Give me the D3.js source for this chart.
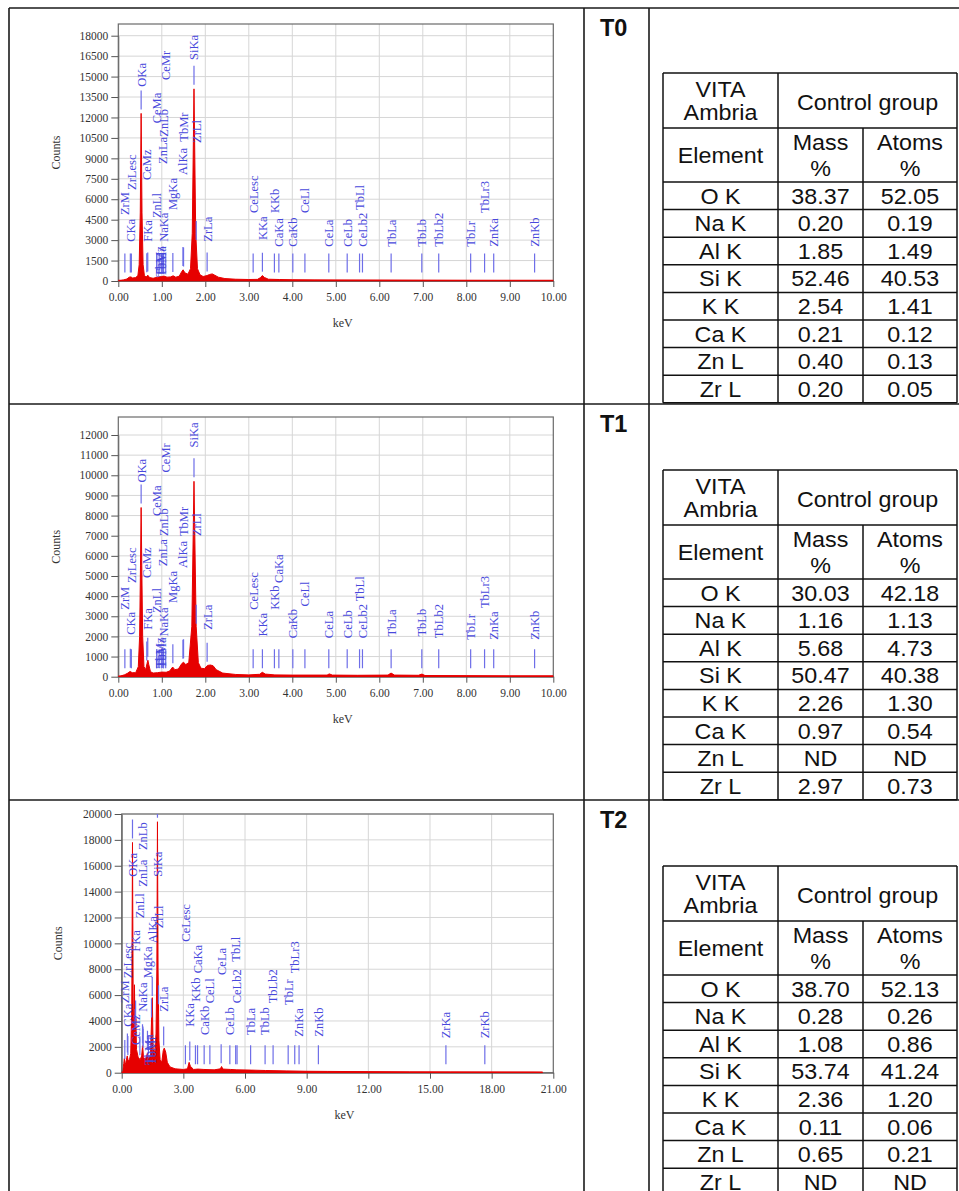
<!DOCTYPE html>
<html><head><meta charset="utf-8">
<script src="https://cdn.jsdelivr.net/npm/d3@7"></script>
<style>body{margin:0;background:#fff}svg{display:block}</style>
</head><body>
<svg id="c" width="959" height="1191"></svg>
<script>
// ---------------- DATA ----------------
const sections = ["T0", "T1", "T2"];
const elements = ["O K", "Na K", "Al K", "Si K", "K K", "Ca K", "Zn L", "Zr L"];
const massT0 = ["38.37", "0.20", "1.85", "52.46", "2.54", "0.21", "0.40", "0.20"];
const atomsT0 = ["52.05", "0.19", "1.49", "40.53", "1.41", "0.12", "0.13", "0.05"];
const massT1 = ["30.03", "1.16", "5.68", "50.47", "2.26", "0.97", "ND", "2.97"];
const atomsT1 = ["42.18", "1.13", "4.73", "40.38", "1.30", "0.54", "ND", "0.73"];
const massT2 = ["38.70", "0.28", "1.08", "53.74", "2.36", "0.11", "0.65", "ND"];
const atomsT2 = ["52.13", "0.26", "0.86", "41.24", "1.20", "0.06", "0.21", "ND"];

const xTicksT0 = [0,1,2,3,4,5,6,7,8,9,10];
const xTicksT1 = [0,1,2,3,4,5,6,7,8,9,10];
const xTicksT2 = [0,3,6,9,12,15,18,21];
const yTicksT0 = [0,1500,3000,4500,6000,7500,9000,10500,12000,13500,15000,16500,18000];
const yTicksT1 = [0,1000,2000,3000,4000,5000,6000,7000,8000,9000,10000,11000,12000];
const yTicksT2 = [0,2000,4000,6000,8000,10000,12000,14000,16000,18000,20000];

// spectra: [keV, counts]
const spectrumT0 = [[0,0],[0.05,30],[0.12,80],[0.2,150],[0.25,280],[0.29,300],[0.33,220],[0.4,250],[0.45,400],[0.48,1200],[0.505,5000],[0.525,12300],[0.545,5000],[0.57,1200],[0.6,400],[0.64,300],[0.68,420],[0.72,250],[0.8,200],[0.9,280],[1.0,330],[1.05,360],[1.12,280],[1.2,300],[1.26,380],[1.32,280],[1.4,350],[1.46,700],[1.49,820],[1.53,600],[1.6,500],[1.66,900],[1.70,3500],[1.74,14100],[1.78,3500],[1.82,900],[1.88,450],[1.95,330],[2.04,400],[2.1,480],[2.16,520],[2.22,420],[2.3,280],[2.45,180],[2.7,130],[3.0,110],[3.2,120],[3.27,250],[3.31,400],[3.36,260],[3.45,130],[3.7,110],[4.0,90],[4.5,80],[5,70],[6,60],[7,50],[8,40],[9,35],[10,30]];
const spectrumT1 = [[0,0],[0.05,30],[0.15,100],[0.22,180],[0.27,260],[0.32,200],[0.4,200],[0.46,500],[0.49,2000],[0.51,5500],[0.525,8400],[0.54,5500],[0.56,2000],[0.59,500],[0.63,350],[0.66,650],[0.68,820],[0.7,600],[0.74,250],[0.8,180],[0.9,200],[1.0,230],[1.1,220],[1.18,280],[1.25,480],[1.3,350],[1.38,380],[1.46,650],[1.5,720],[1.55,600],[1.62,700],[1.69,2500],[1.74,9700],[1.79,2500],[1.84,700],[1.9,420],[1.98,400],[2.05,560],[2.12,580],[2.18,540],[2.25,350],[2.4,180],[2.7,110],[3.0,90],[3.25,120],[3.31,220],[3.38,130],[3.6,90],[4.0,80],[4.8,80],[4.85,140],[4.92,80],[5.5,70],[6.2,80],[6.27,180],[6.35,80],[6.9,70],[6.98,130],[7.05,60],[8,50],[9,40],[10,40]];
const spectrumT2 = [[0,0],[0.05,200],[0.1,700],[0.13,1100],[0.16,600],[0.2,800],[0.27,1300],[0.32,900],[0.38,1000],[0.44,1500],[0.49,5000],[0.525,17800],[0.56,5000],[0.59,3500],[0.62,6800],[0.65,3000],[0.69,4200],[0.72,1800],[0.8,1200],[0.9,1000],[0.97,1300],[1.02,2100],[1.06,1200],[1.15,1000],[1.25,1500],[1.3,1100],[1.4,1300],[1.46,4500],[1.49,5800],[1.53,1800],[1.6,1500],[1.67,3000],[1.71,8000],[1.74,19400],[1.77,8000],[1.81,2500],[1.87,1000],[1.95,800],[2.02,1700],[2.07,1900],[2.14,1600],[2.22,800],[2.35,450],[2.6,300],[3.0,250],[3.2,300],[3.28,800],[3.34,500],[3.5,250],[3.7,280],[4.0,250],[4.5,220],[4.8,300],[4.86,480],[4.92,280],[5.3,250],[5.6,220],[6.3,200],[7,170],[8,140],[9,110],[10,100],[12,80],[14,60],[16,50],[18,40],[20,30],[20.48,20]];

// element markers: [label, keV, label baseline in counts]
const markersT0 = [["ZrM",0.151,4840],["CKa",0.277,2880],["ZrLesc",0.30,6680],["OKa",0.525,14260],["CeMz",0.655,7410],["FKa",0.677,2880],["CeMa",0.883,11570],["ZnLl",0.884,4620],["TbMz",0.94,320],["TbMa",0.99,320],["ZnLa",1.012,8590],["ZnLb",1.034,10590],["NaKa",1.041,2880],["CeMr",1.09,14750],["MgKa",1.254,5210],["AlKa",1.486,7780],["TbMr",1.50,10220],["SiKa",1.740,16220],["ZrLl",1.792,10130],["ZrLa",2.042,2880],["CeLesc",3.10,4990],["KKa",3.313,3010],["KKb",3.589,4990],["CaKa",3.691,2520],["CaKb",4.012,2520],["CeLl",4.29,4990],["CeLa",4.839,2520],["CeLb",5.262,2520],["CeLb2",5.613,2520],["TbLl",5.546,5210],["TbLa",6.272,2520],["TbLb",6.977,2520],["TbLb2",7.366,2520],["TbLr",8.10,2520],["TbLr3",8.42,4990],["ZnKa",8.63,2520],["ZnKb",9.57,2520]];
const markersT1 = [["ZrM",0.151,3325],["CKa",0.277,2080],["ZrLesc",0.30,4655],["OKa",0.525,9640],["CeMz",0.655,4905],["FKa",0.677,2330],["CeMa",0.883,7975],["ZnLl",0.884,3160],["TbMz",0.94,430],["TbMa",0.99,430],["ZnLa",1.012,5485],["ZnLb",1.034,6980],["NaKa",1.041,1995],["CeMr",1.09,10140],["MgKa",1.254,3660],["AlKa",1.486,5400],["TbMr",1.50,6980],["SiKa",1.740,11385],["ZrLl",1.792,6980],["ZrLa",2.042,2330],["CeLesc",3.10,3325],["KKa",3.313,1995],["KKb",3.589,3325],["CaKa",3.691,4655],["CaKb",4.012,1915],["CeLl",4.29,3490],["CeLa",4.839,1915],["CeLb",5.262,1915],["CeLb2",5.613,1915],["TbLl",5.546,3740],["TbLa",6.272,1995],["TbLb",6.977,1995],["TbLb2",7.366,1915],["TbLr",8.10,1830],["TbLr3",8.42,3410],["ZnKa",8.63,1830],["ZnKb",9.57,1830]];
const markersT2 = [["CKa",0.277,3556],["ZrM",0.151,5365],["ZrLesc",0.30,7300],["OKa",0.525,15155],["CeMz",0.655,2140],["FKa",0.677,9355],["ZnLl",0.884,11935],["NaKa",1.041,4715],["ZnLa",1.012,14380],["ZnLb",1.034,17215],["MgKa",1.254,7300],["TbMa",1.30,600],["TbMr",1.45,600],["AlKa",1.486,10000],["SiKa",1.740,15155],["ZrLl",1.792,11160],["ZrLa",2.042,4715],["CeLesc",3.10,10130],["KKa",3.313,3556],["KKb",3.589,5490],["CaKa",3.691,7685],["CaKb",4.012,2915],["CeLl",4.29,5365],["CeLa",4.839,7555],["CeLb",5.262,2915],["CeLb2",5.613,5365],["TbLl",5.546,8580],["TbLa",6.272,2915],["TbLb",6.977,2915],["TbLb2",7.366,5365],["TbLr",8.10,5235],["TbLr3",8.42,7685],["ZnKa",8.63,2785],["ZnKb",9.57,2785],["ZrKa",15.775,2655],["ZrKb",17.668,2655]];

// ---------------- DRAW ----------------
const svg = d3.select("#c");
const SERIF = "'Liberation Serif','Times New Roman',serif";
const SANS = "'Liberation Sans',Arial,sans-serif";

// outer layout table
const sectionTops = [8, 404, 800];
const outer = svg.append("g").attr("stroke", "#1a1a1a").attr("stroke-width", 1.6);
[9, 584, 649].forEach(x => outer.append("line").attr("x1", x).attr("x2", x).attr("y1", 8).attr("y2", 1191));
sectionTops.forEach(y => outer.append("line").attr("x1", 9).attr("x2", 959).attr("y1", y).attr("y2", y));

sections.forEach((s, i) => {
  svg.append("text").attr("x", 600).attr("y", sectionTops[i] + 27.5)
    .attr("font-family", SANS).attr("font-weight", "bold").attr("font-size", 23.5)
    .attr("fill", "#111").text(s);
});

function interp(spec, e) {
  for (let i = 1; i < spec.length; i++) {
    if (e <= spec[i][0]) {
      const a = spec[i-1], b = spec[i];
      return a[1] + (b[1]-a[1]) * (e - a[0]) / (b[0] - a[0]);
    }
  }
  return spec[spec.length-1][1];
}

function drawChart(cfg, idx) {
  const g = svg.append("g");
  const x = d3.scaleLinear().domain([0, cfg.xMax]).range([cfg.left, cfg.right]);
  const y = d3.scaleLinear().domain([0, cfg.yRef]).range([cfg.y0, cfg.yRefPx]);
  const clipId = "clip" + idx;
  svg.append("defs").append("clipPath").attr("id", clipId)
    .append("rect").attr("x", cfg.left).attr("y", cfg.top).attr("width", cfg.right - cfg.left).attr("height", cfg.y0 - cfg.top + 1);

  // grid
  g.append("g").selectAll("line").data(cfg.yTicks.filter(d => d > 0)).join("line")
    .attr("x1", cfg.left).attr("x2", cfg.right).attr("y1", d => y(d)).attr("y2", d => y(d))
    .attr("stroke", "#d6d6d6").attr("stroke-width", 1);
  g.append("g").selectAll("line").data(cfg.xTicks.filter(d => d > 0 && d < cfg.xMax)).join("line")
    .attr("x1", d => x(d)).attr("x2", d => x(d)).attr("y1", cfg.top).attr("y2", cfg.y0)
    .attr("stroke", "#d6d6d6").attr("stroke-width", 1);

  // frame
  g.append("rect").attr("x", cfg.left).attr("y", cfg.top).attr("width", cfg.right - cfg.left).attr("height", cfg.y0 - cfg.top)
    .attr("fill", "none").attr("stroke", "#6a6a6a").attr("stroke-width", 1.2);

  // spectrum
  const area = d3.area().x(d => x(d[0])).y0(cfg.y0).y1(d => y(d[1]));
  g.append("path").datum(cfg.spectrum).attr("d", area)
    .attr("fill", "#e60000").attr("stroke", "#e60000").attr("stroke-width", 1)
    .attr("clip-path", `url(#${clipId})`);

  // markers
  const mg = g.append("g").attr("clip-path", `url(#${clipId})`);
  cfg.markers.forEach(m => {
    const ex = x(m[1]);
    const s = interp(cfg.spectrum, m[1]);
    const bottom = Math.min(y(s) - 4, cfg.y0 - 8.5);
    const top = bottom - 19;
    mg.append("line").attr("x1", ex).attr("x2", ex).attr("y1", top).attr("y2", bottom)
      .attr("stroke", "#6e6ee8").attr("stroke-width", 1.2);
  });
  g.append("g").selectAll("text").data(cfg.markers).join("text")
    .attr("transform", d => `translate(${x(d[1])},${y(d[2])}) rotate(-90)`)
    .attr("dy", "0.35em").attr("text-anchor", "start")
    .attr("font-family", SERIF).attr("font-size", 12.5).attr("fill", "#4848dc")
    .text(d => d[0]);

  // axes
  const ya = g.append("g").attr("transform", `translate(${cfg.left},0)`)
    .call(d3.axisLeft(y).tickValues(cfg.yTicks).tickSize(7).tickSizeOuter(0).tickPadding(3).tickFormat(d3.format("d")));
  const xa = g.append("g").attr("transform", `translate(0,${cfg.y0})`)
    .call(d3.axisBottom(x).tickValues(cfg.xTicks).tickSize(6).tickSizeOuter(0).tickPadding(6).tickFormat(d3.format(".2f")));
  [ya, xa].forEach(a => {
    a.selectAll("text").attr("font-family", SERIF).attr("font-size", 11.5).attr("fill", "#333");
    a.selectAll("line").attr("stroke", "#555");
    a.select(".domain").attr("stroke", "#6a6a6a");
  });
  // red baseline of the spectrum over the axis line
  g.append("line").attr("x1", cfg.left).attr("x2", x(cfg.spectrum[cfg.spectrum.length-1][0]))
    .attr("y1", cfg.y0 - 0.5).attr("y2", cfg.y0 - 0.5).attr("stroke", "#e60000").attr("stroke-width", 1.5);

  g.append("text").attr("transform", `translate(${cfg.countsX},${(cfg.top + cfg.y0) / 2}) rotate(-90)`)
    .attr("text-anchor", "middle").attr("font-family", SERIF).attr("font-size", 12).attr("fill", "#333").text("Counts");
  g.append("text").attr("x", (cfg.left + cfg.right) / 2 + 7).attr("y", cfg.y0 + 46)
    .attr("text-anchor", "middle").attr("font-family", SERIF).attr("font-size", 12).attr("fill", "#333").text("keV");
}

drawChart({spectrum: spectrumT0, markers: markersT0, xMax: 10, xTicks: xTicksT0, yTicks: yTicksT0,
  left: 118.3, right: 553.3, top: 24, y0: 281, yRef: 18000, yRefPx: 35.7, countsX: 60}, 0);
drawChart({spectrum: spectrumT1, markers: markersT1, xMax: 10, xTicks: xTicksT1, yTicks: yTicksT1,
  left: 118.3, right: 553.3, top: 417, y0: 676.7, yRef: 12000, yRefPx: 435, countsX: 60}, 1);
drawChart({spectrum: spectrumT2, markers: markersT2, xMax: 21, xTicks: xTicksT2, yTicks: yTicksT2,
  left: 121.7, right: 553.3, top: 814, y0: 1072.7, yRef: 20000, yRefPx: 814, countsX: 62}, 2);

// composition tables
function drawTable(top, mass, atoms) {
  const cols = [663, 778, 863, 957];
  const rowH = 27.6;
  const rows = [top, top + 55, top + 109];
  for (let i = 1; i <= elements.length; i++) rows.push(top + 109 + i * rowH);
  const g = svg.append("g");
  const ln = g.append("g").attr("stroke", "#111").attr("stroke-width", 1.5);
  const bottom = rows[rows.length - 1];
  ln.append("line").attr("x1", cols[0]).attr("x2", cols[0]).attr("y1", top).attr("y2", bottom);
  ln.append("line").attr("x1", cols[1]).attr("x2", cols[1]).attr("y1", top).attr("y2", bottom);
  ln.append("line").attr("x1", cols[2]).attr("x2", cols[2]).attr("y1", rows[1]).attr("y2", bottom);
  ln.append("line").attr("x1", cols[3]).attr("x2", cols[3]).attr("y1", top).attr("y2", bottom);
  rows.forEach(r => ln.append("line").attr("x1", cols[0]).attr("x2", cols[3]).attr("y1", r).attr("y2", r));

  const t = (xx, yy, s) => g.append("text").attr("transform", `translate(${xx},${yy}) scale(1.06,1)`)
    .attr("text-anchor", "middle")
    .attr("font-family", SANS).attr("font-size", 22).attr("fill", "#111").text(s);
  const c0 = (cols[0] + cols[1]) / 2, c1 = (cols[1] + cols[2]) / 2, c2 = (cols[2] + cols[3]) / 2;
  t(c0, top + 24, "VITA");
  t(c0, top + 47, "Ambria");
  t((cols[1] + cols[3]) / 2, top + 37, "Control group");
  t(c0, rows[1] + 35, "Element");
  t(c1, rows[1] + 22, "Mass");
  t(c1, rows[1] + 48, "%");
  t(c2, rows[1] + 22, "Atoms");
  t(c2, rows[1] + 48, "%");
  elements.forEach((el, i) => {
    const yy = rows[2] + i * rowH + 21.5;
    t(c0, yy, el); t(c1, yy, mass[i]); t(c2, yy, atoms[i]);
  });
}
drawTable(73, massT0, atomsT0);
drawTable(470, massT1, atomsT1);
drawTable(866, massT2, atomsT2);
</script>
</body></html>
